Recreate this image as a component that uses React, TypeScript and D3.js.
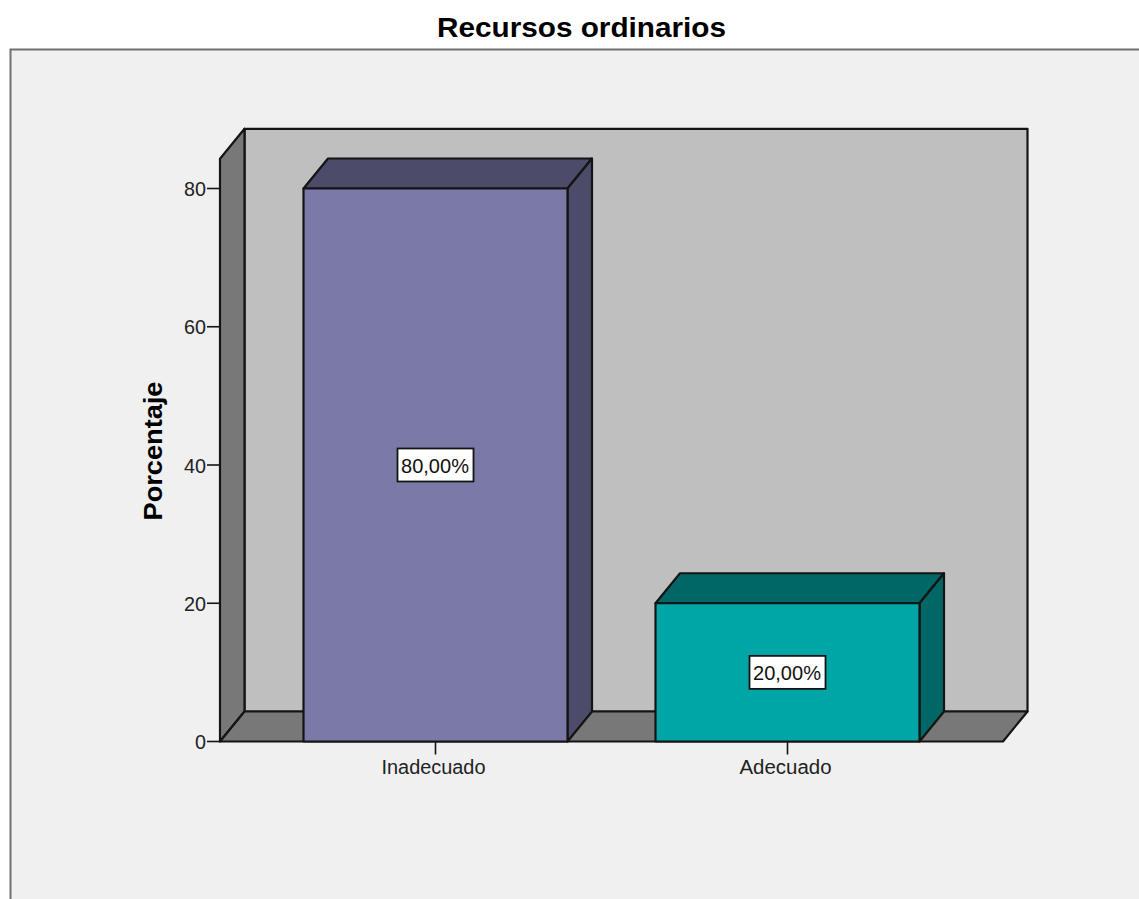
import React from "react";
import * as d3 from "d3";

const categories = ["Inadecuado", "Adecuado"];
const percentages = [80, 20];
const valueLabels = ["80,00%", "20,00%"];
const yTicks = [0, 20, 40, 60, 80];
const faceColors = ["#7a79a8", "#00a6a6"];
const sideColors = ["#4c4b69", "#006666"];
const categoryWidths = [104, 92];

const FONT = "'Liberation Sans', Arial, sans-serif";
const INK = "#141414";
const DEPTH_X = 24.5;
const DEPTH_Y = 30;
const AXIS_X = 220;
const FLOOR_END = 1003;
const WALL_TOP = 84.3;

const y = d3.scaleLinear().domain([0, 80]).range([741.5, 188.5]);
const x = d3.scaleBand<string>().domain(categories).range([259.5, 963.5]).paddingInner(0.25).paddingOuter(0.125);

// Builds a closed polygon path from corner points.
const poly = (pts: [number, number][]) => d3.line()(pts) + "Z";

export default function App() {
  const y0 = y(0);
  const top = y(WALL_TOP);
  const edge = { stroke: INK, strokeWidth: 2.2, strokeLinejoin: "round" as const };
  return (
    <svg width={1139} height={899} style={{ position: "absolute", left: 0, top: 0, display: "block" }} fontFamily={FONT}>
      <rect width={1139} height={899} fill="#ffffff" />
      <rect x={10.5} y={49.5} width={1140} height={860} fill="#f0f0f0" stroke="#707070" strokeWidth={2} />
      <text x={581.5} y={37} textAnchor="middle" fontSize={28.5} fontWeight={700} fill="#000" textLength={289} lengthAdjust="spacingAndGlyphs">Recursos ordinarios</text>

      {/* Back wall, side wall and floor of the 3D box */}
      <path d={poly([[AXIS_X + DEPTH_X, top - DEPTH_Y], [FLOOR_END + DEPTH_X, top - DEPTH_Y], [FLOOR_END + DEPTH_X, y0 - DEPTH_Y], [AXIS_X + DEPTH_X, y0 - DEPTH_Y]])} fill="#bfbfbf" {...edge} />
      <path d={poly([[AXIS_X, top], [AXIS_X + DEPTH_X, top - DEPTH_Y], [AXIS_X + DEPTH_X, y0 - DEPTH_Y], [AXIS_X, y0]])} fill="#787878" {...edge} />
      <path d={poly([[AXIS_X, y0], [AXIS_X + DEPTH_X, y0 - DEPTH_Y], [FLOOR_END + DEPTH_X, y0 - DEPTH_Y], [FLOOR_END, y0]])} fill="#787878" {...edge} />

      {/* Value axis */}
      {yTicks.map((t) => (
        <g key={t}>
          <line x1={AXIS_X - 13} x2={AXIS_X} y1={y(t)} y2={y(t)} stroke={INK} strokeWidth={1.6} />
          <text x={AXIS_X - 14} y={y(t) + 7.5} textAnchor="end" fontSize={20} fill="#222" textLength={t === 0 ? 11 : 22} lengthAdjust="spacingAndGlyphs">{t}</text>
        </g>
      ))}
      <text transform="translate(162,451) rotate(-90)" textAnchor="middle" fontSize={26} fontWeight={700} fill="#000" textLength={139} lengthAdjust="spacingAndGlyphs">Porcentaje</text>

      {/* Bars with their top and side faces */}
      {categories.map((c, i) => {
        const x0 = x(c)!;
        const x1 = x0 + x.bandwidth();
        const yv = y(percentages[i]);
        const cx = x0 + x.bandwidth() / 2;
        const ym = y(percentages[i] / 2);
        return (
          <g key={c}>
            <path d={poly([[x0, yv], [x0 + DEPTH_X, yv - DEPTH_Y], [x1 + DEPTH_X, yv - DEPTH_Y], [x1, yv]])} fill={sideColors[i]} {...edge} />
            <path d={poly([[x1, yv], [x1 + DEPTH_X, yv - DEPTH_Y], [x1 + DEPTH_X, y0 - DEPTH_Y], [x1, y0]])} fill={sideColors[i]} {...edge} />
            <rect x={x0} y={yv} width={x.bandwidth()} height={y0 - yv} fill={faceColors[i]} {...edge} />
            <line x1={cx} x2={cx} y1={y0} y2={y0 + 13} stroke={INK} strokeWidth={1.6} />
            <text x={cx - 2} y={y0 + 32} textAnchor="middle" fontSize={19.5} fill="#222" textLength={categoryWidths[i]} lengthAdjust="spacingAndGlyphs">{c}</text>
            <rect x={cx - 38} y={ym - 16.5} width={76} height={33} fill="#fff" stroke={INK} strokeWidth={1.8} />
            <text x={cx - 0.5} y={ym + 7.5} textAnchor="middle" fontSize={20} fill="#111" textLength={68} lengthAdjust="spacingAndGlyphs">{valueLabels[i]}</text>
          </g>
        );
      })}
    </svg>
  );
}
